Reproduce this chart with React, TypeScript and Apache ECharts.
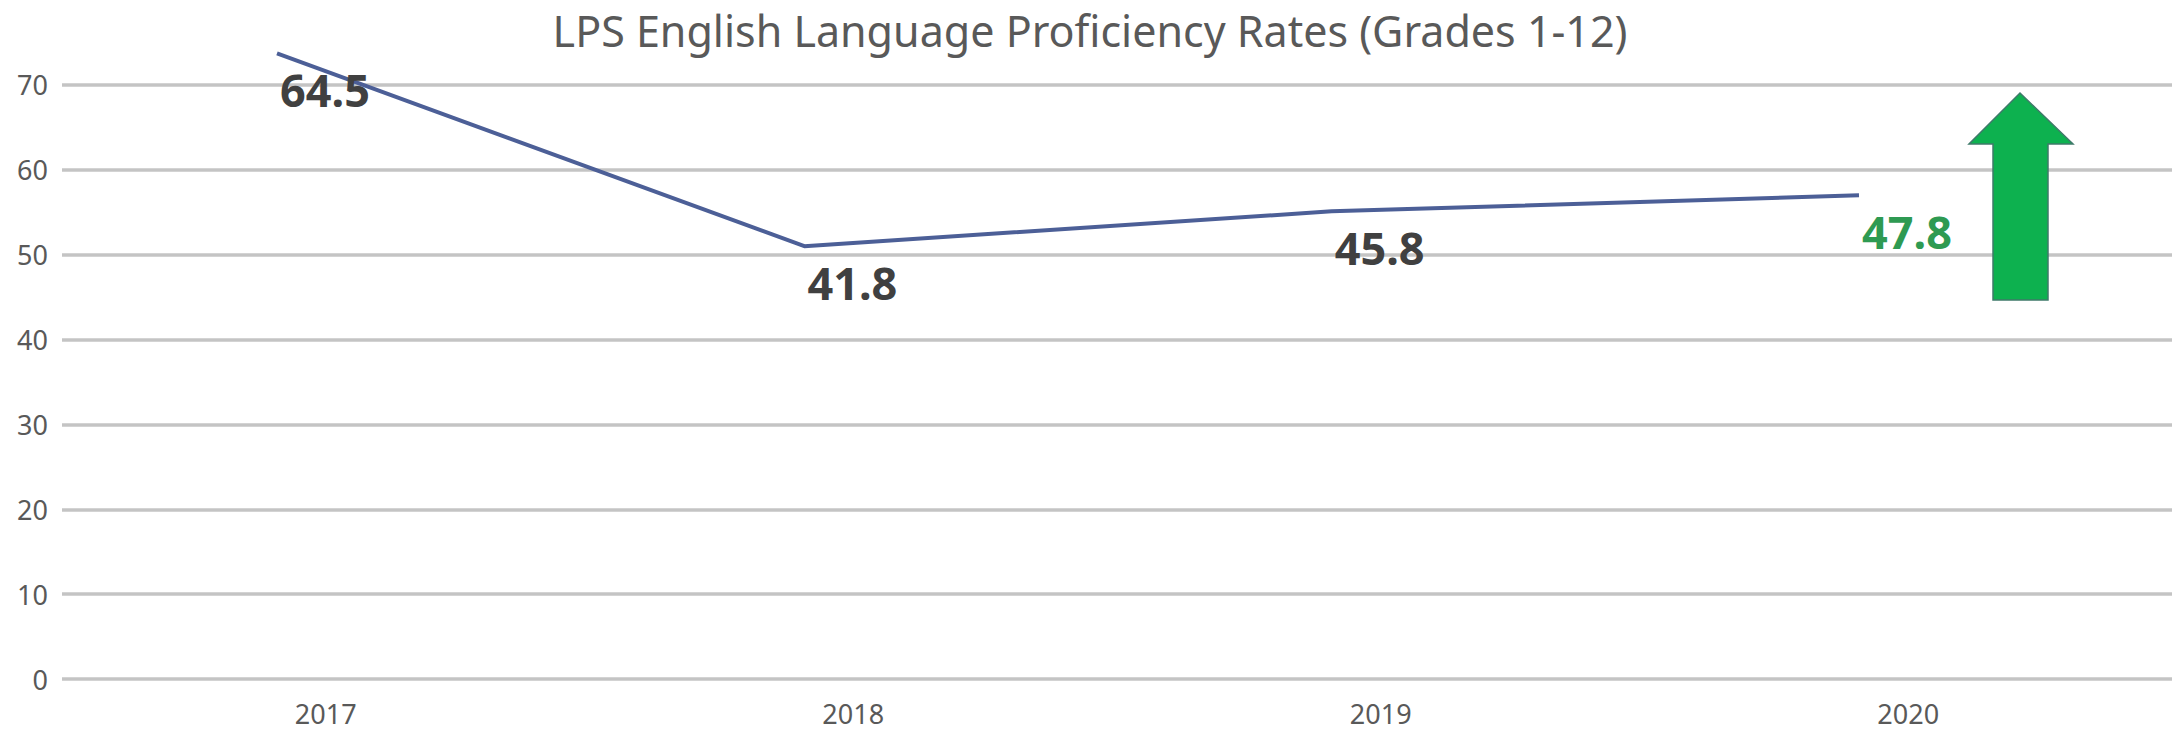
import React, { useEffect, useRef } from "react";
import * as echarts from "echarts";

const title = "LPS English Language Proficiency Rates (Grades 1-12)";
const categories = ["2017", "2018", "2019", "2020"];
const lineValues = [73.7, 51.0, 55.1, 57.0];
const pointLabels = ["64.5", "41.8", "45.8", "47.8"];
const labelColors = ["#404040", "#404040", "#404040", "#2E9A52"];
const yMin = 0;
const yMax = 80;
const yStep = 10;

const FONT = "'Noto Sans', 'DejaVu Sans', sans-serif";

export default function App() {
  const ref = useRef<HTMLDivElement>(null);

  useEffect(() => {
    if (!ref.current) return;
    const chart = echarts.init(ref.current, undefined, { renderer: "svg" });
    const top = -3;
    const bottom = 51;
    chart.setOption({
      animation: false,
      backgroundColor: "#ffffff",
      title: {
        text: title,
        left: "center",
        top: 7,
        padding: 0,
        textStyle: {
          fontFamily: FONT,
          fontSize: 43,
          lineHeight: 46,
          fontWeight: "normal",
          color: "#595959",
        },
      },
      grid: [
        { left: 62, right: 8, top, bottom, containLabel: false },
        { left: 277, right: 321, top, bottom, containLabel: false },
      ],
      xAxis: [
        {
          type: "category",
          gridIndex: 0,
          data: categories,
          boundaryGap: true,
          axisLine: { show: false },
          axisTick: { show: false },
          axisLabel: {
            margin: 21,
            lineHeight: 26,
            verticalAlign: "top",
            fontFamily: FONT,
            fontSize: 27,
            color: "#595959",
          },
        },
        {
          type: "category",
          gridIndex: 1,
          data: categories,
          boundaryGap: false,
          show: false,
        },
      ],
      yAxis: [
        {
          type: "value",
          gridIndex: 0,
          min: yMin,
          max: yMax,
          interval: yStep,
          axisLine: { show: false },
          axisTick: { show: false },
          axisLabel: {
            margin: 14,
            fontFamily: FONT,
            fontSize: 27,
            color: "#595959",
            showMaxLabel: false,
          },
          splitLine: {
            showMaxLine: false,
            lineStyle: { color: "#C4C4C4", width: 3.5 },
          },
        },
        {
          type: "value",
          gridIndex: 1,
          min: yMin,
          max: yMax,
          interval: yStep,
          show: false,
          splitLine: { show: false },
        },
      ],
      graphic: [
        {
          type: "polygon",
          shape: {
            points: [
              [2020, 93],
              [2073, 144],
              [2048, 144],
              [2048, 300],
              [1993, 300],
              [1993, 144],
              [1969, 144],
            ],
          },
          style: { fill: "#0DB14F", stroke: "#3F7A6A", lineWidth: 1.5 },
          z: 10,
        },
      ],
      series: [
        {
          type: "line",
          xAxisIndex: 1,
          yAxisIndex: 1,
          data: lineValues.map((v, i) => ({
            value: v,
            label: {
              show: true,
              formatter: pointLabels[i],
              color: labelColors[i],
            },
          })),
          symbol: "circle",
          symbolSize: 1,
          showSymbol: true,
          itemStyle: { color: "rgba(0,0,0,0)", borderWidth: 0 },
          lineStyle: { color: "#4C5F97", width: 4 },
          label: {
            show: true,
            position: "inside",
            offset: [48, 36],
            fontFamily: FONT,
            fontSize: 45,
            fontWeight: "bold",
          },
          emphasis: { disabled: true },
          z: 5,
        },
      ],
    });
    return () => chart.dispose();
  }, []);

  return (
    <div
      ref={ref}
      style={{ position: "fixed", left: 0, top: 0, width: 2180, height: 730 }}
    />
  );
}
